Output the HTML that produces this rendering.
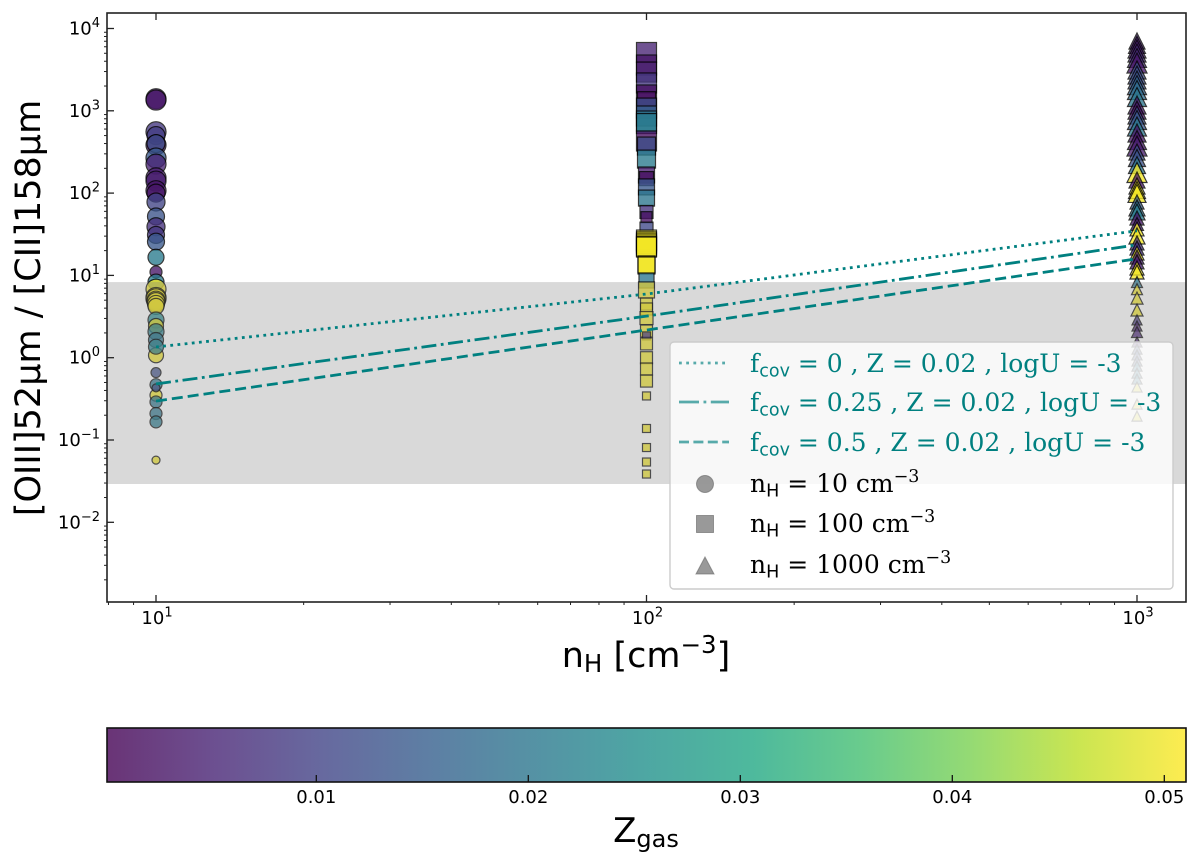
<!DOCTYPE html>
<html lang="en">
<head>
<meta charset="utf-8">
<title>[OIII]52μm / [CII]158μm versus hydrogen density</title>
<style>
html,body{margin:0;padding:0;background:#fff;}
svg{display:block;}
text{font-family:"DejaVu Sans","Liberation Sans",sans-serif;fill:#000;}
.serif{font-family:"DejaVu Serif","Liberation Serif",serif;}
.sans{font-family:"DejaVu Sans","Liberation Sans",sans-serif;}
</style>
</head>
<body>
<svg id="chart" xmlns="http://www.w3.org/2000/svg" width="1200" height="867" viewBox="0 0 1200 867">
  <defs>
    <linearGradient id="viridis-gradient" x1="0" x2="1" y1="0" y2="0"></linearGradient>
    <clipPath id="plot-clip"><rect x="107" y="13" width="1079" height="589"></rect></clipPath>
  </defs>
  <g id="markers" clip-path="url(#plot-clip)"></g>
  <rect id="band" fill="#808080" fill-opacity="0.3"></rect>
  <g id="lines" clip-path="url(#plot-clip)"></g>
  <g id="axes"></g>

  <g>
    <rect x="670" y="342" width="503" height="247" rx="4" fill="#fff" fill-opacity="0.8" stroke="#ccc" stroke-width="1.4"></rect>
    <line x1="679" x2="729" y1="363" y2="363" stroke="#008080" stroke-opacity="0.65" stroke-width="2.8" stroke-dasharray="2.8 4.4"></line>
    <line x1="679" x2="729" y1="402" y2="402" stroke="#008080" stroke-opacity="0.65" stroke-width="2.8" stroke-dasharray="20 4.5 2.8 4.5"></line>
    <line x1="679" x2="729" y1="442" y2="442" stroke="#008080" stroke-opacity="0.65" stroke-width="2.8" stroke-dasharray="10 4.4"></line>
    <circle cx="705" cy="484" r="8.5" fill="#808080" fill-opacity="0.8" stroke="#666" stroke-opacity="0.6"></circle>
    <rect x="696.5" y="515.5" width="17" height="17" fill="#808080" fill-opacity="0.8" stroke="#666" stroke-opacity="0.6"></rect>
    <polygon points="705,557 714,574 696,574" fill="#808080" fill-opacity="0.8" stroke="#666" stroke-opacity="0.6"></polygon>
    <text class="serif" x="750" y="372" font-size="25" style="fill:#008080">f<tspan class="sans" font-size="17.5" dy="4.5">cov</tspan><tspan dy="-4.5"> = 0 , Z = 0.02 , logU = -3</tspan></text>
    <text class="serif" x="750" y="411" font-size="25" style="fill:#008080">f<tspan class="sans" font-size="17.5" dy="4.5">cov</tspan><tspan dy="-4.5"> = 0.25 , Z = 0.02 , logU = -3</tspan></text>
    <text class="serif" x="750" y="451" font-size="25" style="fill:#008080">f<tspan class="sans" font-size="17.5" dy="4.5">cov</tspan><tspan dy="-4.5"> = 0.5 , Z = 0.02 , logU = -3</tspan></text>
    <text class="serif" x="750" y="492" font-size="25">n<tspan class="sans" font-size="17.5" dy="4.5">H</tspan><tspan dy="-4.5"> = 10 cm</tspan><tspan font-size="17.5" dy="-10">−3</tspan></text>
    <text class="serif" x="750" y="532" font-size="25">n<tspan class="sans" font-size="17.5" dy="4.5">H</tspan><tspan dy="-4.5"> = 100 cm</tspan><tspan font-size="17.5" dy="-10">−3</tspan></text>
    <text class="serif" x="750" y="573" font-size="25">n<tspan class="sans" font-size="17.5" dy="4.5">H</tspan><tspan dy="-4.5"> = 1000 cm</tspan><tspan font-size="17.5" dy="-10">−3</tspan></text>
  </g>

  <text transform="translate(40,308) rotate(-90)" text-anchor="middle" font-size="35">[OIII]52μm / [CII]158μm</text>
  <text x="646" y="667" text-anchor="middle" font-size="35">n<tspan font-size="24.5" dy="5">H</tspan><tspan dy="-5"> [cm</tspan><tspan font-size="24.5" dy="-14">−3</tspan><tspan dy="14">]</tspan></text>

  <rect id="colorbar" x="107" y="728" width="1079" height="54" fill="url(#viridis-gradient)" fill-opacity="0.8" stroke="none"></rect>
  <rect x="107" y="728" width="1079" height="54" fill="none" stroke="#111" stroke-width="1.6"></rect>
  <g id="colorbar-axis"></g>
  <text x="646" y="842" text-anchor="middle" font-size="34">Z<tspan font-size="24" dy="5">gas</tspan></text>
</svg>

<script>
// ---- Tick data ----
const xMajorExponents = [1, 2, 3];
const yMajorExponents = [-2, -1, 0, 1, 2, 3, 4];
const minorMultipliers = [2, 3, 4, 5, 6, 7, 8, 9];
const colorbarTicks = [0.01, 0.02, 0.03, 0.04, 0.05];
const colorbarTickLabels = ['0.01', '0.02', '0.03', '0.04', '0.05'];
const bandRange = [8.3, 0.0292];

// ---- Model lines ----
const lineDensities = [10, 100, 1000];
const fcov0Values = [1.35, 5.94, 34.8];
const fcov025Values = [0.48, 3.2, 23.5];
const fcov05Values = [0.297, 2.17, 15.9];

// ---- nH = 10 cm^-3 series ----
const circleRatio = [1400, 1350, 557, 500, 384, 400, 267, 225, 153, 140, 107, 100, 78, 52, 39, 31, 25.7, 16.6, 11, 8.3, 6.8, 5.4, 5.2, 5, 4.8, 4.5, 4.2, 2.87, 2.43, 2.07, 1.64, 1.07, 1.36, 0.66, 0.35, 0.47, 0.29, 0.43, 0.21, 0.166, 0.057];
const circleZ = [0.003, 0.003, 0.008, 0.009, 0.003, 0.012, 0.014, 0.005, 0.004, 0.004, 0.003, 0.003, 0.01, 0.013, 0.007, 0.008, 0.014, 0.021, 0.003, 0.021, 0.05, 0.05, 0.05, 0.05, 0.05, 0.05, 0.05, 0.024, 0.05, 0.022, 0.02, 0.05, 0.022, 0.012, 0.05, 0.02, 0.02, 0.012, 0.02, 0.021, 0.05];
const circleSize = [10, 10, 10, 9, 10, 9, 10, 10, 10, 10, 10, 9, 9, 8.5, 9, 8.5, 8.5, 8, 6, 8, 10, 10, 10, 9, 9, 8.5, 8, 8, 7.5, 8, 7.5, 7.5, 7.5, 5, 6, 6, 6, 4, 6, 6, 4];

// ---- nH = 100 cm^-3 series ----
const squareRatio = [5110, 3600, 2960, 2180, 1556, 1327, 1080, 865, 752, 700, 430, 373, 259, 166, 150, 119, 87, 59, 51, 37, 26.9, 25.5, 24.1, 22.7, 22.1, 13.6, 13.2, 8.67, 6.65, 4.49, 3.91, 3.03, 2.11, 1.84, 1.47, 1.0, 0.73, 0.52, 0.343, 0.138, 0.081, 0.054, 0.0386];
const squareZ = [0.005, 0.003, 0.004, 0.008, 0.002, 0.002, 0.012, 0.015, 0.02, 0.021, 0.002, 0.012, 0.021, 0.004, 0.002, 0.014, 0.02, 0.007, 0.002, 0.011, 0.05, 0.05, 0.05, 0.05, 0.05, 0.05, 0.05, 0.02, 0.05, 0.05, 0.05, 0.05, 0.05, 0.008, 0.05, 0.05, 0.05, 0.05, 0.05, 0.05, 0.05, 0.05, 0.05];
const squareSize = [10, 10, 10, 10, 10, 9, 10, 10, 10, 10, 10, 9, 9, 8, 7, 8, 8, 6.5, 5.5, 6.5, 10, 10, 10, 10, 10, 8.5, 8.5, 7.5, 8, 6, 6, 6.5, 6, 4, 6, 6, 6, 6, 4, 4, 4, 4, 4];

// ---- nH = 1000 cm^-3 series ----
const triangleRatio = [7050, 6310, 5640, 5040, 4390, 3810, 3130, 2720, 2370, 2050, 1790, 1470, 1175, 1020, 889, 773, 644, 537, 441, 373, 316, 267, 219, 178, 144, 122, 109, 99, 78, 66, 59, 49.8, 42.2, 36.7, 30.1, 24.8, 21.5, 18.7, 16.7, 14.6, 12.3, 11, 8.3, 6.8, 5.3, 3.8, 2.88, 2.43, 2.05, 1.55, 1.27, 1.08, 0.91, 0.79, 0.65, 0.55, 0.44, 0.273, 0.195];
const triangleZ = [0.004, 0.004, 0.004, 0.006, 0.006, 0.003, 0.012, 0.012, 0.013, 0.016, 0.018, 0.02, 0.003, 0.003, 0.012, 0.014, 0.02, 0.003, 0.003, 0.004, 0.012, 0.013, 0.02, 0.05, 0.003, 0.05, 0.05, 0.05, 0.015, 0.02, 0.021, 0.003, 0.004, 0.05, 0.05, 0.007, 0.007, 0.05, 0.004, 0.004, 0.05, 0.05, 0.02, 0.05, 0.05, 0.05, 0.008, 0.004, 0.005, 0.005, 0.012, 0.012, 0.013, 0.02, 0.02, 0.02, 0.05, 0.05, 0.05];
const triangleSize = [8, 8.5, 9, 9, 9.5, 10, 9, 9, 9, 9.5, 9.5, 9.5, 9, 9, 9, 9.5, 9.5, 9, 9.5, 10, 8, 8.5, 8.5, 10, 8, 8, 8.5, 9, 7, 8, 8, 7, 6.5, 7, 8, 7, 7, 7, 7, 7, 7, 7, 5.5, 5.5, 6, 6, 5, 5, 5.5, 5, 5, 5, 5, 5, 5, 5, 5, 5, 5];

const viridisStops = ['#440154', '#482475', '#414487', '#355f8d', '#2a788e', '#21918c', '#22a884', '#44bf70', '#7ad151', '#bddf26', '#fde725'];

// ---- Scales ----
const NS = 'http://www.w3.org/2000/svg';
const xScale = v => 156 + (Math.log10(v) - 1) * 490.5;
const yScale = v => 28.5 + (4 - Math.log10(v)) * 82.3;
const zMax = 0.0509;
const zNorm = z => Math.max(0, Math.min(1, z / zMax));
const cbScale = z => 104.3 + z * 21200;
const sizeScale = s => s;

function hexRgb(h) {
  return [parseInt(h.slice(1, 3), 16), parseInt(h.slice(3, 5), 16), parseInt(h.slice(5, 7), 16)];
}
function viridis(t) {
  const p = t * (viridisStops.length - 1);
  const i = Math.min(Math.floor(p), viridisStops.length - 2);
  const a = hexRgb(viridisStops[i]);
  const b = hexRgb(viridisStops[i + 1]);
  const f = p - i;
  return 'rgb(' + a.map((c, k) => Math.round(c + (b[k] - c) * f)).join(',') + ')';
}
function make(tag, attrs, parent) {
  const el = document.createElementNS(NS, tag);
  for (const k in attrs) el.setAttribute(k, attrs[k]);
  parent.appendChild(el);
  return el;
}

// ---- Colorbar gradient ----
const gradient = document.getElementById('viridis-gradient');
viridisStops.forEach((c, i) => {
  make('stop', { offset: i / (viridisStops.length - 1), 'stop-color': c }, gradient);
});

// ---- Markers ----
const markers = document.getElementById('markers');
const markerStyle = z => ({ fill: viridis(zNorm(z)), stroke: '#000', 'stroke-width': 1.2, opacity: 0.78 });

circleRatio.forEach((v, i) => {
  const el = make('circle', Object.assign({ cx: xScale(10), cy: yScale(v), r: sizeScale(circleSize[i]) }, markerStyle(circleZ[i])), markers);
  
  
});
squareRatio.forEach((v, i) => {
  const s = sizeScale(squareSize[i]);
  const el = make('rect', Object.assign({ x: xScale(100) - s, y: yScale(v) - s, width: 2 * s, height: 2 * s }, markerStyle(squareZ[i])), markers);
  
  
});
triangleRatio.forEach((v, i) => {
  const s = sizeScale(triangleSize[i]);
  const cx = xScale(1000);
  const cy = yScale(v);
  const pts = cx + ',' + (cy - s) + ' ' + (cx + s) + ',' + (cy + s) + ' ' + (cx - s) + ',' + (cy + s);
  const el = make('polygon', Object.assign({ points: pts }, markerStyle(triangleZ[i])), markers);
  
  
});

// ---- Band ----
const band = document.getElementById('band');
band.setAttribute('x', 107);
band.setAttribute('width', 1079);
band.setAttribute('y', yScale(bandRange[0]));
band.setAttribute('height', yScale(bandRange[1]) - yScale(bandRange[0]));

// ---- Model lines ----
const linesGroup = document.getElementById('lines');
function drawLine(values, dash, name) {
  const pts = values.map((v, i) => xScale(lineDensities[i]) + ',' + yScale(v)).join(' ');
  const el = make('polyline', { points: pts, fill: 'none', stroke: '#008080', 'stroke-width': 2.8, 'stroke-dasharray': dash }, linesGroup);
  
  
}
drawLine(fcov0Values, '2.8 4.4', 'line-fcov-0');
drawLine(fcov025Values, '15 4.5 2.8 4.5', 'line-fcov-025');
drawLine(fcov05Values, '11 5', 'line-fcov-05');

// ---- Axes ----
const axes = document.getElementById('axes');
const frame = make('rect', { x: 107, y: 13, width: 1079, height: 589, fill: 'none', stroke: '#222', 'stroke-width': 1.6 }, axes);


function tick(x1, y1, x2, y2, w, name) {
  const el = make('line', { x1: x1, y1: y1, x2: x2, y2: y2, stroke: '#222', 'stroke-width': w }, axes);
  
  
}
function powerLabel(exp, x, y, anchor, name) {
  const t = make('text', { x: x, y: y, 'text-anchor': anchor, 'font-size': 18 }, axes);
  
  
  t.textContent = '10';
  const sup = make('tspan', { 'font-size': 13, dy: -7.5 }, t);
  sup.textContent = exp < 0 ? '−' + Math.abs(exp) : String(exp);
}
xMajorExponents.forEach(e => {
  const x = xScale(Math.pow(10, e));
  tick(x, 602, x, 595, 1.3, 'x-major-tick');
  tick(x, 13, x, 20, 1.3, 'x-major-tick-top');
  powerLabel(e, x + 1, 624, 'middle', 'x-tick-label');
});
yMajorExponents.forEach(e => {
  const y = yScale(Math.pow(10, e));
  tick(107, y, 114, y, 1.3, 'y-major-tick');
  powerLabel(e, 100, y + 6, 'end', 'y-tick-label');
});
[0, 1, 2].forEach(e => {
  minorMultipliers.forEach(m => {
    const v = m * Math.pow(10, e);
    if (xScale(v) >= 107 && xScale(v) <= 1186) tick(xScale(v), 602, xScale(v), 605, 1, 'x-minor-tick');
  });
});
[-3, -2, -1, 0, 1, 2, 3, 4].forEach(e => {
  minorMultipliers.forEach(m => {
    const v = m * Math.pow(10, e);
    if (yScale(v) >= 13 && yScale(v) <= 602) tick(107, yScale(v), 104, yScale(v), 1, 'y-minor-tick');
  });
});

// ---- Colorbar axis ----
const cbAxis = document.getElementById('colorbar-axis');
colorbarTicks.forEach((z, i) => {
  const x = cbScale(z);
  const l = make('line', { x1: x, y1: 782, x2: x, y2: 775, stroke: '#111', 'stroke-width': 1.3 }, cbAxis);
  
  
  const t = make('text', { x: x, y: 803, 'text-anchor': 'middle', 'font-size': 18 }, cbAxis);
  
  
  t.textContent = colorbarTickLabels[i];
});
</script>
</body>
</html>
